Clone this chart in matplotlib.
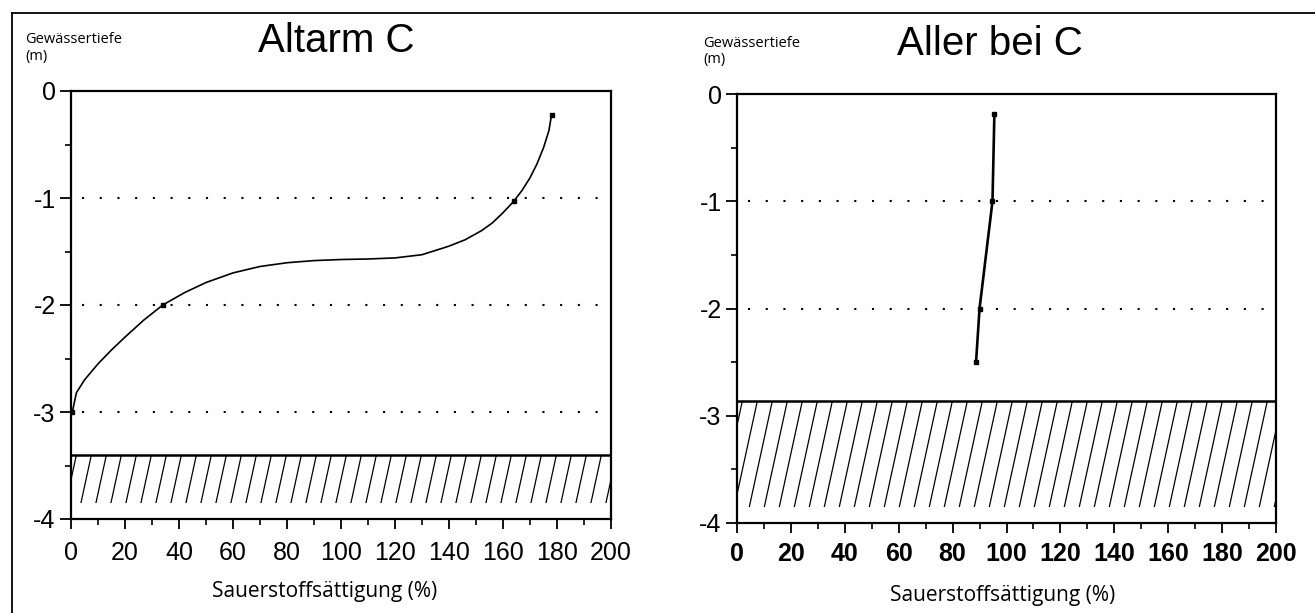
import numpy as np
import matplotlib.pyplot as plt
from matplotlib.lines import Line2D
from matplotlib.patches import Rectangle

# ---------------- Daten ---------------- #
# Altarm C: Messpunkte (Sauerstoffsättigung %, Gewässertiefe m)
altarm_sat   = [178, 164, 34, 0.5]
altarm_tiefe = [-0.22, -1.03, -2.0, -3.0]
# Verlauf der gezeichneten Kurve
altarm_kurve_sat = [0.5, 2, 5, 10, 15, 20, 27, 34, 42, 50, 60, 70, 80, 90, 100,
                    110, 120, 130, 140, 146, 152, 156, 160, 164, 167, 170, 172.5,
                    175, 177, 178]
altarm_kurve_tiefe = [-3.0, -2.82, -2.70, -2.55, -2.42, -2.30, -2.14, -2.0, -1.885,
                      -1.79, -1.70, -1.64, -1.605, -1.585, -1.575, -1.57, -1.56,
                      -1.53, -1.45, -1.39, -1.306, -1.234, -1.138, -1.03, -0.931,
                      -0.811, -0.686, -0.531, -0.371, -0.22]
altarm_sohle = -3.40
altarm_grid  = [-1, -2, -3]

# Aller bei C
aller_sat   = [95.5, 94.8, 90, 88.7]
aller_tiefe = [-0.19, -1.0, -2.0, -2.5]
aller_sohle = -2.86
aller_grid  = [-1, -2]

sediment_unten = -3.85
x_ticks = [0, 20, 40, 60, 80, 100, 120, 140, 160, 180, 200]
y_ticks = [0, -1, -2, -3, -4]

W, H = 1315, 613
plt.rcParams['font.family'] = ['Liberation Sans', 'DejaVu Sans']
fig = plt.figure(figsize=(W / 100, H / 100), dpi=100)

ax1 = fig.add_axes([71 / W, 1 - 519 / H, 540 / W, 428 / H])
ax2 = fig.add_axes([737 / W, 1 - 523 / H, 539 / W, 429 / H])


def schraffur(ax, top, bot):
    # steile Schraffur wie im Original (ca. 77 Grad)
    pos = ax.get_position()
    sx = pos.width * W / 200
    sy = pos.height * H / 4
    step = 15 / sx
    run = (top - bot) * sy / 4.6 / sx
    clip = Rectangle((0, bot), 200, top - bot, transform=ax.transData)
    for x0 in np.arange(-run + 2, 200, step):
        ln, = ax.plot([x0, x0 + run], [bot, top], color='k', lw=0.9)
        ln.set_clip_path(clip)


def panel(ax, sat, tiefe, kx, ky, sohle, grid, bold, lw):
    ax.set_xlim(0, 200)
    ax.set_ylim(-4, 0)
    for g in grid:
        ax.plot([4, 199], [g, g], linestyle=(0, (1, 7.5)), color='k', lw=1.5)
    schraffur(ax, sohle, sediment_unten)
    ax.plot([0, 200], [sohle, sohle], color='k', lw=1.8)
    ax.plot(kx, ky, color='k', lw=lw, solid_joinstyle='round')
    ax.plot(sat, tiefe, 's', color='k', ms=3.2)
    ax.set_xticks(x_ticks)
    ax.set_xticks(np.arange(10, 200, 20), minor=True)
    ax.set_yticks(y_ticks)
    ax.set_yticks([-0.5, -1.5, -2.5, -3.5], minor=True)
    w = 'bold' if bold else 'normal'
    ax.set_xticklabels([str(v) for v in x_ticks], fontsize=18, fontweight=w)
    ax.set_yticklabels([str(v) for v in y_ticks], fontsize=18)
    ax.tick_params(axis='x', which='major', direction='out', length=7, width=1.3,
                   pad=9 if not bold else 7)
    ax.tick_params(axis='x', which='minor', direction='out', length=4, width=1.2)
    ax.tick_params(axis='y', which='major', direction='out', length=8, width=1.3, pad=3)
    ax.tick_params(axis='y', which='minor', direction='out', length=4, width=1.2)
    for s in ax.spines.values():
        s.set_linewidth(1.6)


panel(ax1, altarm_sat, altarm_tiefe, altarm_kurve_sat, altarm_kurve_tiefe,
      altarm_sohle, altarm_grid, False, 1.2)
panel(ax2, aller_sat, aller_tiefe, aller_sat, aller_tiefe,
      aller_sohle, aller_grid, True, 1.9)

# Titel
fig.text(336 / W, 1 - 52 / H, 'Altarm C', fontsize=29, ha='center', va='baseline')
fig.text(990 / W, 1 - 55 / H, 'Aller bei C', fontsize=29, ha='center', va='baseline')

# Achsentitel
fs = ['Open Sans', 'DejaVu Sans']
fig.text(25 / W, 1 - 43 / H, 'Gewässertiefe', fontsize=10.5, family=fs, va='baseline')
fig.text(25 / W, 1 - 60 / H, '(m)', fontsize=10.5, family=fs, va='baseline')
fig.text(703 / W, 1 - 47 / H, 'Gewässertiefe', fontsize=10.5, family=fs, va='baseline')
fig.text(703 / W, 1 - 63 / H, '(m)', fontsize=10.5, family=fs, va='baseline')
fig.text(325 / W, 1 - 592 / H, 'Sauerstoffsättigung (%)', fontsize=15, family=fs,
         ha='center', va='center')
fig.text(1003 / W, 1 - 595 / H, 'Sauerstoffsättigung (%)', fontsize=15, family=fs,
         ha='center', va='center')

# Rahmen
fig.add_artist(Line2D([12 / W, 12 / W], [0, 1 - 13 / H], color='k', lw=1.3))
fig.add_artist(Line2D([12 / W, 1], [1 - 13 / H, 1 - 13 / H], color='k', lw=1.3))

fig.savefig('out.png', dpi=100)
